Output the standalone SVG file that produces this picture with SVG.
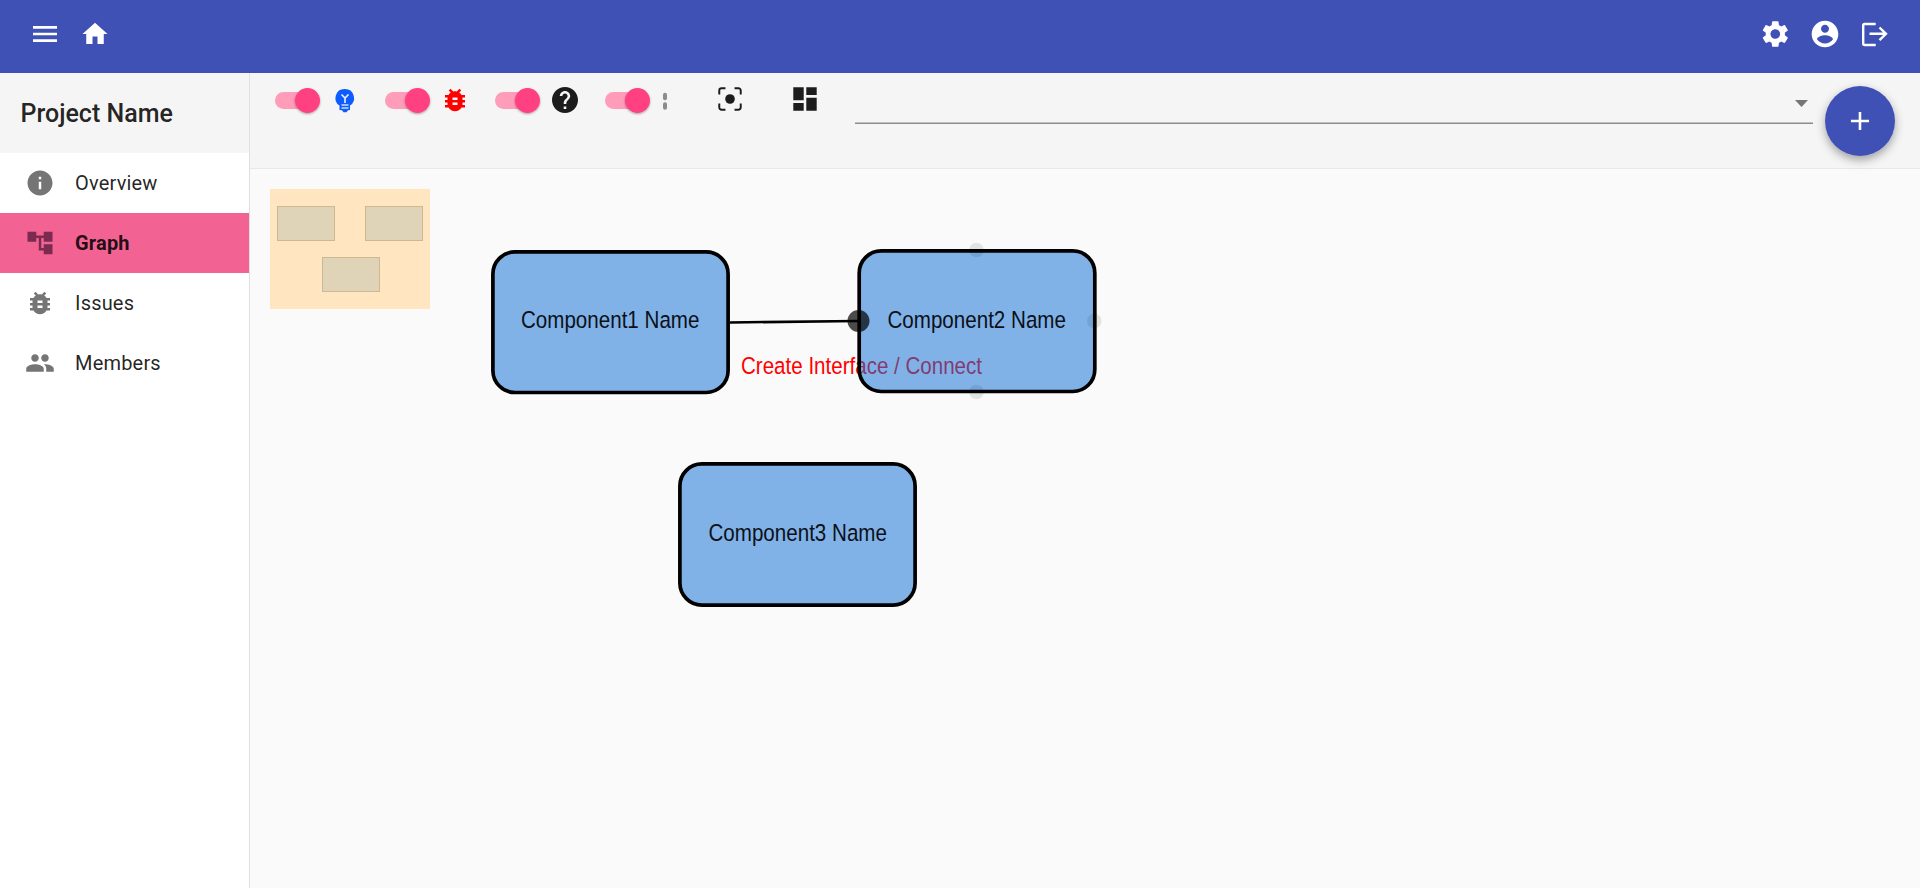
<svg xmlns="http://www.w3.org/2000/svg" width="1920" height="888" viewBox="0 0 1920 888">
<style>
.ui{font-family:Roboto,"Liberation Sans",sans-serif;fill:#000;fill-opacity:.87}
.nav{font-size:20px;letter-spacing:.19px}
.gl{font-family:"Liberation Sans",Arial,sans-serif;font-size:24.5px;fill:#0c1018;text-anchor:middle}
.node{fill:#0f6fd7;fill-opacity:.52;stroke:#000;stroke-width:3.7}
.track{fill:#ff9cb9}
.thumb{fill:#ff4081;filter:url(#sh)}
.mm{fill:#dfd4b8;stroke:#cdb98f;stroke-width:1}
.hl{fill:#000;fill-opacity:.09}
.w{fill:#fff}.g{fill:#757575}.k{fill:#1c1c1c}
</style>
<defs>
<filter id="sh" x="-50%" y="-50%" width="200%" height="200%"><feDropShadow dx="0" dy="1" stdDeviation="1.3" flood-color="#000" flood-opacity=".35"/></filter>
<filter id="fab" x="-50%" y="-50%" width="200%" height="200%"><feDropShadow dx="0" dy="4" stdDeviation="5" flood-color="#000" flood-opacity=".35"/></filter>
<path id="bug" d="M20 8h-2.81c-.45-.78-1.07-1.45-1.82-1.96L17 4.41 15.59 3l-2.17 2.17C12.96 5.06 12.49 5 12 5c-.49 0-.96.06-1.41.17L8.41 3 7 4.41l1.62 1.63C7.88 6.55 7.26 7.22 6.81 8H4v2h2.09c-.05.33-.09.66-.09 1v1H4v2h2v1c0 .34.04.67.09 1H4v2h2.81c1.04 1.79 2.97 3 5.19 3s4.15-1.21 5.19-3H20v-2h-2.09c.05-.33.09-.66.09-1v-1h2v-2h-2v-1c0-.34-.04-.67-.09-1H20V8zm-6 8h-4v-2h4v2zm0-4h-4v-2h4v2z"/>
</defs>
<rect width="1920" height="888" fill="#fafafa"/>
<g id="toolbar">
<rect x="250" y="73" width="1670" height="95" fill="#f5f5f5"/>
<rect x="250" y="168" width="1670" height="1" fill="#e8e8e8"/>
<g id="switches">
<rect class="track" x="275" y="92" width="40" height="17" rx="8.5"/><circle class="thumb" cx="307.5" cy="100.5" r="12.5"/>
<rect class="track" x="385" y="92" width="40" height="17" rx="8.5"/><circle class="thumb" cx="417.5" cy="100.5" r="12.5"/>
<rect class="track" x="495" y="92" width="40" height="17" rx="8.5"/><circle class="thumb" cx="527.5" cy="100.5" r="12.5"/>
<rect class="track" x="605" y="92" width="40" height="17" rx="8.5"/><circle class="thumb" cx="637.5" cy="100.5" r="12.5"/>
</g>
<g id="bulb">
<path fill="#0d5cff" d="M345 89a9 9 0 0 1 5 16.5V110l-2 .3-1.5 2h-3l-1.500-2-2.500-.3v-4.500A9 9 0 0 1 345 89z"/>
<path d="M341.500 94.500l3.500 3.500 3.500-3.500M345 98v5" fill="none" stroke="#eef3ff" stroke-width="1.600"/>
<path d="M341.500 105h7M341.500 108h7" fill="none" stroke="#cfdcff" stroke-width="1.300"/>
</g>
<use href="#bug" fill="#f00" transform="translate(440 85) scale(1.25)"/>
<path class="k" transform="translate(549.4 84.400) scale(1.3)" d="M12 2C6.48 2 2 6.48 2 12s4.48 10 10 10 10-4.48 10-10S17.52 2 12 2zm1 17h-2v-2h2v2zm2.07-7.75l-.9.92C13.45 12.9 13 13.5 13 15h-2v-.5c0-1.100.45-2.100 1.170-2.830l1.240-1.260c.37-.36.59-.86.59-1.410 0-1.100-.9-2-2-2s-2 .9-2 2H8c0-2.210 1.790-4 4-4s4 1.790 4 4c0 .88-.36 1.680-.93 2.250z"/>
<rect x="663" y="92.700" width="4" height="7.500" rx="2" fill="#8c8c8c"/><rect x="663" y="102.300" width="4" height="7.500" rx="2" fill="#8c8c8c"/>
<g id="focus" transform="translate(714.400 83.400) scale(1.3)">
<path fill="none" stroke="#1c1c1c" stroke-width="1.500" d="M3.750 8.500V5.500a1.750 1.750 0 0 1 1.750-1.750h3M15.500 3.750h3a1.750 1.750 0 0 1 1.750 1.750v3M20.250 15.500v3a1.750 1.750 0 0 1-1.750 1.750h-3M8.500 20.250h-3a1.750 1.750 0 0 1-1.750-1.750v-3"/>
<circle class="k" cx="12" cy="12" r="3.700"/>
</g>
<path class="k" transform="translate(789.400 83.400) scale(1.3)" d="M3 13h8V3H3v10zm0 8h8v-6H3v6zm10 0h8V11h-8v10zm0-18v6h8V3h-8z"/>
<rect x="855" y="122.500" width="958" height="1.500" fill="#8c8c8c"/>
<path class="g" d="M1795 100h13l-6.500 7z"/>
</g>
<g id="sidebar">
<rect width="249" height="888" fill="#fff"/>
<rect x="249" y="73" width="1" height="815" fill="#e0e0e0"/>
<rect y="73" width="249" height="80" fill="#f5f5f5"/>
<text class="ui" x="20.500" y="121.500" font-size="25" font-weight="500">Project Name</text>
<g id="nav-overview"><path class="g" transform="translate(25 168) scale(1.25)" d="M12 2C6.48 2 2 6.48 2 12s4.48 10 10 10 10-4.48 10-10S17.52 2 12 2zm1 15h-2v-6h2v6zm0-8h-2V7h2v2z"/><text class="ui nav" x="75" y="190">Overview</text></g>
<g id="nav-graph"><rect y="213" width="249" height="60" fill="#f26292"/><path fill="#7a2b4f" transform="translate(25 228) scale(1.25)" d="M22 11V3h-7v3H9V3H2v8h7V8h2v10h4v3h7v-8h-7v3h-2V8h2v3z"/><text class="ui nav" x="75" y="250" font-weight="700">Graph</text></g>
<g id="nav-issues"><use href="#bug" class="g" transform="translate(25 288) scale(1.25)"/><text class="ui nav" x="75" y="310">Issues</text></g>
<g id="nav-members"><path class="g" transform="translate(25 348) scale(1.25)" d="M16 11c1.66 0 2.99-1.34 2.99-3S17.66 5 16 5c-1.66 0-3 1.34-3 3s1.34 3 3 3zm-8 0c1.66 0 2.99-1.34 2.99-3S9.66 5 8 5C6.34 5 5 6.34 5 8s1.34 3 3 3zm0 2c-2.33 0-7 1.17-7 3.5V19h14v-2.5c0-2.33-4.67-3.5-7-3.5zm8 0c-.29 0-.62.02-.97.05 1.16.84 1.97 1.97 1.97 3.45V19h6v-2.5c0-2.33-4.67-3.5-7-3.5z"/><text class="ui nav" x="75" y="370">Members</text></g>
</g>
<g id="appbar">
<rect width="1920" height="73" fill="#3f51b5"/>
<path class="w" transform="translate(29 18) scale(1.333)" d="M3 18h18v-2H3v2zm0-5h18v-2H3v2zm0-7v2h18V6H3z"/>
<path class="w" transform="translate(80 19) scale(1.25)" d="M10 20v-6h4v6h5v-8h3L12 3 2 12h3v8z"/>
<path class="w" transform="translate(1759.300 18) scale(1.333)" d="M19.14,12.94c0.04-0.3,0.06-0.61,0.06-0.94c0-0.32-0.02-0.64-0.07-0.94l2.03-1.58c0.18-0.14,0.23-0.41,0.12-0.61 l-1.92-3.32c-0.12-0.22-0.37-0.29-0.59-0.22l-2.39,0.96c-0.5-0.38-1.03-0.7-1.62-0.94L14.4,2.81c-0.04-0.24-0.24-0.41-0.48-0.41 h-3.84c-0.24,0-0.43,0.17-0.47,0.41L9.25,5.35C8.66,5.59,8.12,5.92,7.63,6.29L5.24,5.33c-0.22-0.08-0.47,0-0.59,0.22L2.74,8.87 C2.62,9.08,2.66,9.34,2.86,9.48l2.03,1.58C4.84,11.36,4.8,11.69,4.8,12s0.02,0.64,0.07,0.94l-2.03,1.58 c-0.18,0.14-0.23,0.41-0.12,0.61l1.92,3.32c0.12,0.22,0.37,0.29,0.59,0.22l2.39-0.96c0.5,0.38,1.03,0.7,1.62,0.94l0.36,2.54 c0.05,0.24,0.24,0.41,0.48,0.41h3.84c0.24,0,0.44-0.17,0.47-0.41l0.36-2.54c0.59-0.24,1.13-0.56,1.62-0.94l2.39,0.96 c0.22,0.08,0.47,0,0.59-0.22l1.92-3.32c0.12-0.22,0.07-0.47-0.12-0.61L19.14,12.94z M12,15.6c-1.98,0-3.6-1.62-3.6-3.6 s1.62-3.6,3.6-3.6s3.6,1.62,3.6,3.6S13.98,15.6,12,15.6z"/>
<path class="w" transform="translate(1809 18) scale(1.333)" d="M12 2C6.48 2 2 6.48 2 12s4.48 10 10 10 10-4.48 10-10S17.52 2 12 2zm0 3c1.66 0 3 1.34 3 3s-1.34 3-3 3-3-1.34-3-3 1.34-3 3-3zm0 14.2c-2.5 0-4.71-1.28-6-3.22.03-1.99 4-3.08 6-3.08 1.99 0 5.97 1.09 6 3.08-1.29 1.94-3.5 3.22-6 3.22z"/>
<path fill="none" stroke="#fff" stroke-width="2.400" d="M1875.700 24h-11a1.500 1.500 0 0 0-1.500 1.500v18a1.500 1.500 0 0 0 1.500 1.500h11M1869.500 33.800h16.500M1879.500 27.500l6.500 6.300-6.500 6.300"/>
</g>
<g id="minimap">
<rect x="270" y="189" width="160" height="120" fill="#ffe6c0"/>
<rect class="mm" x="277.500" y="206.500" width="57" height="34"/>
<rect class="mm" x="365.500" y="206.500" width="57" height="34"/>
<rect class="mm" x="322.500" y="257.500" width="57" height="34"/>
</g>
<g id="connectors">
<path d="M730 322.500L858 321" fill="none" stroke="#000" stroke-width="2.500"/>
</g>
<text class="gl" x="861.500" y="374" style="fill:#f00" textLength="241" lengthAdjust="spacingAndGlyphs">Create Interface / Connect</text>
<g id="component1">
<rect class="node" x="492.900" y="251.900" width="235.200" height="140.600" rx="22"/>
<text class="gl" x="610.200" y="328.300" textLength="178.500" lengthAdjust="spacingAndGlyphs">Component1 Name</text>
</g>
<g id="component2">
<rect class="node" x="859.200" y="250.900" width="235.600" height="140.600" rx="22"/>
<text class="gl" x="976.700" y="327.500" textLength="178.500" lengthAdjust="spacingAndGlyphs">Component2 Name</text>
<circle class="hl" cx="976.500" cy="250" r="7.300"/>
<circle class="hl" cx="1094.300" cy="321" r="7.300"/>
<circle class="hl" cx="976.500" cy="392" r="7.300"/>
<circle cx="858.500" cy="321" r="11" fill="#000" fill-opacity=".7"/>
</g>
<g id="component3">
<rect class="node" x="679.900" y="463.900" width="235.200" height="141.200" rx="22"/>
<text class="gl" x="797.700" y="541" textLength="178.500" lengthAdjust="spacingAndGlyphs">Component3 Name</text>
</g>
<g id="fab">
<circle cx="1860" cy="121" r="35" fill="#3f51b5" filter="url(#fab)"/>
<path class="w" transform="translate(1844.500 105.500) scale(1.29)" d="M19 13h-6v6h-2v-6H5v-2h6V5h2v6h6v2z"/>
</g>
</svg>
